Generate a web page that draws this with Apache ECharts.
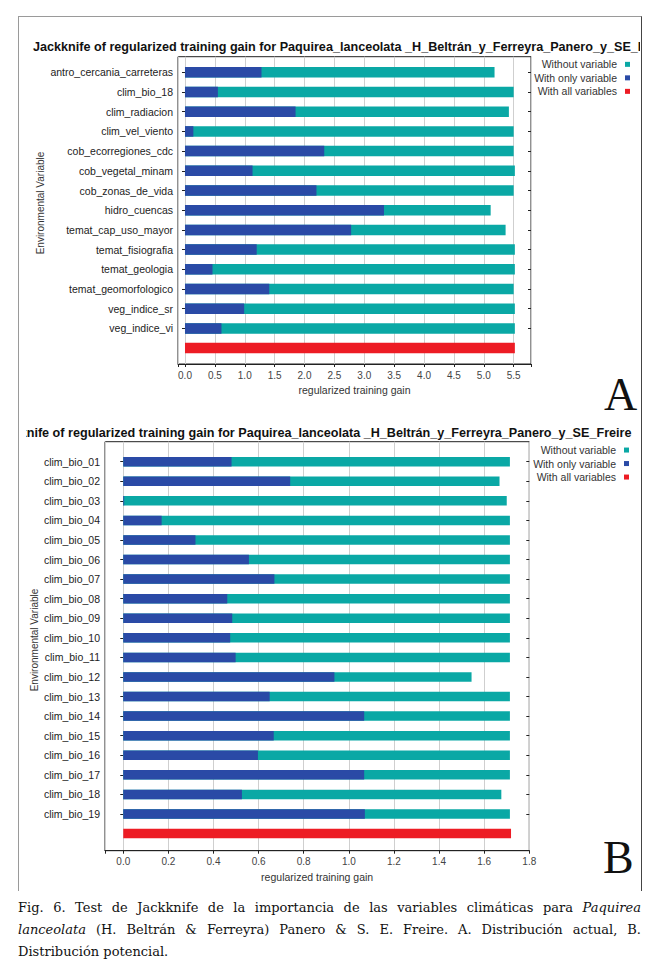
<!DOCTYPE html>
<html><head><meta charset="utf-8">
<script src="https://cdn.jsdelivr.net/npm/echarts@6/dist/echarts.min.js"></script>
<style>
html,body{margin:0;padding:0;background:#fff;}
#page{position:relative;width:661px;height:967px;overflow:hidden;background:#fff;}
#frame{position:absolute;left:18px;top:16px;width:622px;height:874px;border-left:1px solid #9a9a9a;border-top:1px solid #9a9a9a;border-right:1px solid #444;}
#chartA{position:absolute;left:19px;top:17px;width:621px;height:425px;}
#chartB{position:absolute;left:26px;top:416px;width:614px;height:472px;}
#caption{position:absolute;left:18px;top:897px;width:623px;font-family:"DejaVu Serif",serif;font-size:13px;line-height:22px;color:#111;}
#caption .j{text-align:justify;text-align-last:justify;}
</style></head>
<body><div id="page">
<div id="frame"></div>
<div id="chartA"></div>
<div id="chartB"></div>
<div id="caption">
<div class="j">Fig. 6. Test de Jackknife de la importancia de las variables climáticas para <i>Paquirea</i></div>
<div class="j"><i>lanceolata</i> (H. Beltrán &amp; Ferreyra) Panero &amp; S. E. Freire. A. Distribución actual, B.</div>
<div>Distribución potencial.</div>
</div>
</div>
<script>
// ---------- data ----------
var titleText = 'Jackknife of regularized training gain for Paquirea_lanceolata _H_Beltrán_y_Ferreyra_Panero_y_SE_Freire';
var seriesNames = ['Without variable', 'With only variable', 'With all variables'];
var xAxisName = 'regularized training gain';
var yAxisName = 'Environmental Variable';

var categoriesA = ['antro_cercania_carreteras','clim_bio_18','clim_radiacion','clim_vel_viento','cob_ecorregiones_cdc','cob_vegetal_minam','cob_zonas_de_vida','hidro_cuencas','temat_cap_uso_mayor','temat_fisiografia','temat_geologia','temat_geomorfologico','veg_indice_sr','veg_indice_vi'];
var withoutA  = [5.18, 5.50, 5.42, 5.50, 5.50, 5.52, 5.50, 5.115, 5.365, 5.52, 5.52, 5.50, 5.52, 5.52];
var withOnlyA = [1.28, 0.55, 1.85, 0.14, 2.33, 1.13, 2.20, 3.33, 2.78, 1.20, 0.46, 1.41, 0.99, 0.61];
var allA = 5.52;
var ticksA = [0.0, 0.5, 1.0, 1.5, 2.0, 2.5, 3.0, 3.5, 4.0, 4.5, 5.0, 5.5];

var categoriesB = ['clim_bio_01','clim_bio_02','clim_bio_03','clim_bio_04','clim_bio_05','clim_bio_06','clim_bio_07','clim_bio_08','clim_bio_09','clim_bio_10','clim_bio_11','clim_bio_12','clim_bio_13','clim_bio_14','clim_bio_15','clim_bio_16','clim_bio_17','clim_bio_18','clim_bio_19'];
var withoutB  = [1.714, 1.668, 1.700, 1.714, 1.714, 1.714, 1.714, 1.714, 1.714, 1.714, 1.714, 1.544, 1.714, 1.714, 1.714, 1.714, 1.714, 1.676, 1.714];
var withOnlyB = [0.48, 0.74, 0.004, 0.17, 0.32, 0.557, 0.67, 0.461, 0.483, 0.474, 0.498, 0.936, 0.649, 1.068, 0.667, 0.597, 1.068, 0.526, 1.071];
var allB = 1.719;
var ticksB = [0.0, 0.2, 0.4, 0.6, 0.8, 1.0, 1.2, 1.4, 1.6, 1.8];

// ---------- style ----------
var TEAL = '#0aa8a5', BLUE = '#2a4aa6', RED = '#ed1c24';
var SANS = '"Liberation Sans", Arial, sans-serif';

function measure(text, font) {
  var c = document.createElement('canvas').getContext('2d');
  c.font = font; return c.measureText(text).width;
}
var prefix = 'Jackknife of regularized training gain for Paquirea_lanceolata _H_Beltrán_y_Ferreyra_Panero_y_SE_';
var titleFs = 100 * 605 / measure(prefix, 'bold 100px ' + SANS);
var jackW = measure('Jackk', 'bold ' + titleFs + 'px ' + SANS);

function build(cfg) {
  var cats = cfg.cats.concat(['']);
  var tickSet = cfg.ticks.map(function (t) { return t.toFixed(1); });
  function fmt(v) {
    var s = (Math.round(v * 1000) / 1000).toFixed(1);
    var ok = Math.abs(v - parseFloat(s)) < 1e-6 && tickSet.indexOf(s) >= 0;
    return ok ? s : '';
  }
  var tickInterval = function (idx, val) { return val !== ''; };
  return {
    animation: false,
    textStyle: { fontFamily: SANS },
    title: {
      text: titleText, left: cfg.titleLeft, top: cfg.titleY - titleFs * 0.6, padding: 0,
      textStyle: { fontSize: titleFs, fontWeight: 'bold', color: '#111', fontFamily: SANS, lineHeight: titleFs * 1.2 }
    },
    legend: {
      orient: 'vertical', right: cfg.legendRight, top: cfg.legendTop, align: 'right',
      itemWidth: 5, itemHeight: 5, itemGap: 0, padding: 0, selectedMode: false, icon: 'rect',
      textStyle: { fontSize: 10.5, color: '#333', fontFamily: SANS, lineHeight: 13.5, padding: [0, 3, 0, 0] },
      data: seriesNames
    },
    grid: [
      { left: cfg.frame[0], top: cfg.frame[1], width: cfg.frame[2], height: cfg.frame[3], show: true, borderColor: '#222', borderWidth: 1, backgroundColor: 'rgba(0,0,0,0)', outerBoundsMode: 'none' },
      { left: cfg.frame[0], top: cfg.dataTop, width: cfg.frame[2], height: cfg.dataH, outerBoundsMode: 'none' }
    ],
    xAxis: [
      { gridIndex: 0, type: 'value', min: cfg.xmin, max: cfg.xmax, splitNumber: cfg.split,
        name: xAxisName, nameLocation: 'middle', nameGap: 20,
        nameTextStyle: { fontSize: 10.5, color: '#333', fontFamily: SANS },
        axisLine: { show: true, lineStyle: { color: '#222', width: 1 } },
        axisTick: { show: true, length: 3, lineStyle: { color: '#222' } },
        axisLabel: { show: true, fontSize: 10, color: '#444', margin: 6, formatter: fmt, showMinLabel: true, showMaxLabel: true, hideOverlap: false },
        splitLine: { show: true, lineStyle: { color: '#cfcfcf', width: 1 } } },
      { gridIndex: 1, type: 'value', min: cfg.xmin, max: cfg.xmax, show: false, splitLine: { show: false } }
    ],
    yAxis: [
      { gridIndex: 0, type: 'value', min: 0, max: 1, axisLine: { show: false }, axisTick: { show: false }, axisLabel: { show: false }, splitLine: { show: false } },
      { gridIndex: 1, type: 'category', data: cats, inverse: true, position: 'left',
        axisLine: { show: false },
        axisTick: { show: true, alignWithLabel: true, length: 3, interval: tickInterval, lineStyle: { color: '#222' } },
        axisLabel: { fontSize: 10.5, color: '#222', margin: 5, interval: 0, fontFamily: SANS },
        splitLine: { show: false } },
      { gridIndex: 1, type: 'category', data: cats, inverse: true, position: 'right',
        axisLine: { show: false },
        axisTick: { show: true, inside: true, alignWithLabel: true, length: 3, interval: tickInterval, lineStyle: { color: '#222' } },
        axisLabel: { show: false }, splitLine: { show: false } }
    ],
    series: [
      { name: seriesNames[0], type: 'bar', xAxisIndex: 1, yAxisIndex: 1, barWidth: cfg.barW, barGap: '-100%',
        itemStyle: { color: TEAL }, silent: true, data: cfg.without.concat([null]) },
      { name: seriesNames[1], type: 'bar', xAxisIndex: 1, yAxisIndex: 1, barWidth: cfg.barW, barGap: '-100%',
        itemStyle: { color: BLUE }, silent: true, data: cfg.withOnly.concat([null]) },
      { name: seriesNames[2], type: 'bar', xAxisIndex: 1, yAxisIndex: 1, barWidth: cfg.barW, barGap: '-100%',
        itemStyle: { color: RED }, silent: true, data: cfg.without.map(function () { return null; }).concat([cfg.all]) }
    ],
    graphic: [
      { type: 'text', x: cfg.yNameX, y: cfg.yNameY, rotation: Math.PI / 2,
        style: { text: yAxisName, fontSize: 10, fontFamily: SANS, fill: '#333', align: 'center', verticalAlign: 'middle' } },
      { type: 'text', x: cfg.letterX, y: cfg.letterY,
        style: { text: cfg.letter, fontSize: 46, fontFamily: '"Liberation Serif", serif', fill: '#111', align: 'left', verticalAlign: 'middle' } }
    ]
  };
}

var chartA = echarts.init(document.getElementById('chartA'), null, { renderer: 'svg' });
chartA.setOption(build({
  cats: categoriesA, without: withoutA, withOnly: withOnlyA, all: allA, ticks: ticksA,
  frame: [159, 39.7, 353, 307.3], dataTop: 45.45, dataH: 295.5,
  xmin: -0.117, xmax: 5.79, split: 12, barW: 10.5,
  titleLeft: 14, titleY: 29.7, legendRight: 10, legendTop: 40.6,
  yNameX: 21, yNameY: 186, letter: 'A', letterX: 585, letterY: 377
}));

var chartB = echarts.init(document.getElementById('chartB'), null, { renderer: 'svg' });
chartB.setOption(build({
  cats: categoriesB, without: withoutB, withOnly: withOnlyB, all: allB, ticks: ticksB,
  frame: [79, 25.7, 424.3, 409], dataTop: 35.9, dataH: 391.4,
  xmin: -0.081, xmax: 1.8, split: 9, barW: 9.5,
  titleLeft: 0.7 - jackW, titleY: 17, legendRight: 11, legendTop: 27.3,
  yNameX: 8, yNameY: 224, letter: 'B', letterX: 577, letterY: 441
}));
</script>
</body></html>
